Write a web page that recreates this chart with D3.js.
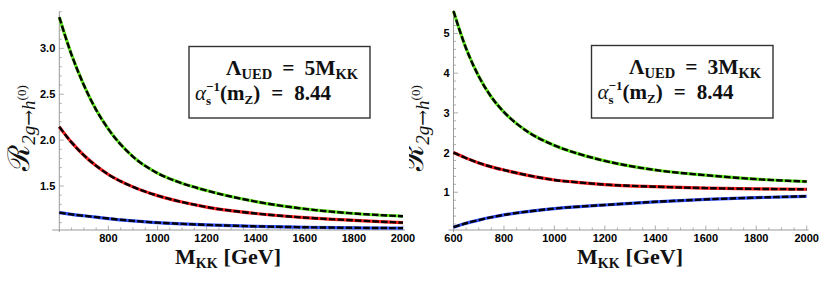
<!DOCTYPE html>
<html>
<head>
<meta charset="utf-8">
<script src="https://cdn.jsdelivr.net/npm/d3@7"></script>
<style>
  body { margin: 0; background: #fff; }
  svg { display: block; }
</style>
</head>
<body>
<div id="chart"></div>
<script>
// M_KK values (GeV) where the curves were read
var mkk = [600, 650, 700, 750, 800, 900, 1000, 1100, 1200, 1400, 1600, 1800, 2000];

// Lambda_UED = 5 M_KK
var green5 = [3.34, 2.93, 2.60, 2.33, 2.12, 1.82, 1.64, 1.53, 1.45, 1.33, 1.25, 1.20, 1.17];
var red5 = [2.145, 1.975, 1.835, 1.72, 1.625, 1.49, 1.395, 1.325, 1.27, 1.20, 1.155, 1.125, 1.10];
var blue5 = [1.21, 1.19, 1.175, 1.16, 1.145, 1.12, 1.10, 1.087, 1.076, 1.06, 1.05, 1.044, 1.04];

// Lambda_UED = 3 M_KK
var green3 = [5.56, 4.62, 3.92, 3.40, 3.02, 2.50, 2.18, 1.96, 1.79, 1.56, 1.43, 1.33, 1.27];
var red3 = [2.0, 1.86, 1.74, 1.64, 1.56, 1.42, 1.31, 1.245, 1.195, 1.14, 1.105, 1.085, 1.075];
var blue3 = [0.12, 0.22, 0.30, 0.37, 0.43, 0.52, 0.59, 0.64, 0.68, 0.76, 0.82, 0.865, 0.90];

var xTicks5 = [800, 1000, 1200, 1400, 1600, 1800, 2000];
var yTicks5 = [1.5, 2.0, 2.5, 3.0];
var xTicks3 = [600, 800, 1000, 1200, 1400, 1600, 1800, 2000];
var yTicks3 = [1, 2, 3, 4, 5];

var colors = { green: "#5ee61e", red: "#ff1f1f", blue: "#3050ff" };

var svg = d3.select("#chart").append("svg").attr("width", 830).attr("height", 282);

svg.append("defs").append("clipPath").attr("id", "clipR")
  .append("rect").attr("x", 409).attr("y", 0).attr("width", 60).attr("height", 282);

function range(a, b, step) {
  var out = [];
  for (var v = a; v <= b + 1e-9; v += step) out.push(+v.toFixed(4));
  return out;
}

function drawPanel(cfg) {
  var x = d3.scaleLinear().domain([600, 2000]).range(cfg.xr);
  var y = d3.scaleLinear().domain(cfg.yd).range([230, cfg.ytop]);
  var g = svg.append("g");

  // axes lines (Mathematica style, gray)
  g.append("line")
    .attr("x1", cfg.xr[0] - cfg.xlead).attr("x2", cfg.xr[1] + 2)
    .attr("y1", y(cfg.yd[0])).attr("y2", y(cfg.yd[0]))
    .attr("stroke", "#9a9a9a").attr("stroke-width", 1);
  g.append("line")
    .attr("x1", x(600)).attr("x2", x(600))
    .attr("y1", y(cfg.yd[0]) + 2).attr("y2", y(cfg.yd[1]))
    .attr("stroke", "#9a9a9a").attr("stroke-width", 1);

  // x ticks (pointing into the plot)
  var xMinor = range(650, 2000, 50);
  g.selectAll(".xt").data(xMinor).enter().append("line")
    .attr("x1", function (d) { return x(d); })
    .attr("x2", function (d) { return x(d); })
    .attr("y1", y(cfg.yd[0]))
    .attr("y2", function (d) { return y(cfg.yd[0]) - (d % 200 === 0 ? 4.5 : 2.5); })
    .attr("stroke", "#9a9a9a").attr("stroke-width", 0.8);
  g.selectAll(".xl").data(cfg.xTicks).enter().append("text")
    .attr("x", function (d) { return x(d); })
    .attr("y", 242)
    .attr("text-anchor", "middle")
    .style("font-family", "Liberation Sans, Arial, sans-serif")
    .style("font-weight", "bold")
    .style("font-size", "11px")
    .attr("fill", "#000")
    .text(function (d) { return d; });

  // y ticks
  var yMinor = range(cfg.yMinor[0], cfg.yd[1], cfg.yMinor[1]);
  g.selectAll(".yt").data(yMinor).enter().append("line")
    .attr("x1", x(600))
    .attr("x2", function (d) {
      var major = cfg.yTicks.some(function (t) { return Math.abs(t - d) < 1e-6; });
      return x(600) + (major ? 4.5 : 2.5);
    })
    .attr("y1", function (d) { return y(d); })
    .attr("y2", function (d) { return y(d); })
    .attr("stroke", "#9a9a9a").attr("stroke-width", 0.8);
  g.selectAll(".yl").data(cfg.yTicks).enter().append("text")
    .attr("x", x(600) - 4)
    .attr("y", function (d) { return y(d) + 4; })
    .attr("text-anchor", "end")
    .style("font-family", "Liberation Sans, Arial, sans-serif")
    .style("font-weight", "bold")
    .style("font-size", "11px")
    .attr("fill", "#000")
    .text(function (d) { return cfg.yFmt(d); });

  // curves: colored solid line under a black dashed line
  var line = d3.line()
    .x(function (d) { return x(d[0]); })
    .y(function (d) { return y(d[1]); })
    .curve(d3.curveMonotoneX);

  cfg.series.forEach(function (s) {
    var pts = mkk.map(function (m, i) { return [m, s.values[i]]; });
    g.append("path").datum(pts)
      .attr("fill", "none").attr("stroke", s.color).attr("stroke-width", 3.2)
      .attr("d", line);
    g.append("path").datum(pts)
      .attr("fill", "none").attr("stroke", "#000").attr("stroke-width", 2.4)
      .attr("stroke-dasharray", "6.5,2.2")
      .attr("d", line);
  });

  // legend box
  var b = cfg.box;
  g.append("rect")
    .attr("x", b[0]).attr("y", b[1]).attr("width", b[2]).attr("height", b[3])
    .attr("fill", "#fff").attr("stroke", "#333").attr("stroke-width", 1.4);

  var t1 = g.append("text")
    .attr("x", b[0] + b[2] - 12).attr("y", b[1] + 28)
    .attr("text-anchor", "end")
    .style("font-family", "Liberation Serif, Times New Roman, serif")
    .style("font-weight", "bold")
    .style("font-size", "21.5px")
    .attr("fill", "#111");
  t1.append("tspan").text("Λ");
  t1.append("tspan").attr("dy", 4).style("font-size", "14.5px").text("UED");
  t1.append("tspan").attr("dy", -4).attr("dx", 10).text("=");
  t1.append("tspan").attr("dx", 10).text(cfg.lambda + "M");
  t1.append("tspan").attr("dy", 4).style("font-size", "14.5px").text("KK");

  var t2 = g.append("text")
    .attr("x", b[0] + 6).attr("y", b[1] + 53)
    .style("font-family", "Liberation Serif, Times New Roman, serif")
    .style("font-weight", "bold")
    .style("font-size", "21px")
    .attr("fill", "#111");
  t2.append("tspan").style("font-style", "italic").style("font-weight", "normal").text("α");
  t2.append("tspan").attr("dy", 5).style("font-size", "13px").text("s");
  t2.append("tspan").attr("dy", -14).attr("dx", -5).style("font-size", "13px").text("−1");
  t2.append("tspan").attr("dy", 9).text("(m");
  t2.append("tspan").attr("dy", 4).style("font-size", "13px").text("Z");
  t2.append("tspan").attr("dy", -4).text(")");
  t2.append("tspan").attr("dx", 11).text("=");
  t2.append("tspan").attr("dx", 11).text("8.44");

  // x axis label
  var xl = g.append("text")
    .attr("x", cfg.xLabelX).attr("y", 264)
    .attr("text-anchor", "middle")
    .style("font-family", "Liberation Serif, Times New Roman, serif")
    .style("font-weight", "bold")
    .style("font-size", "22px")
    .attr("fill", "#111");
  xl.append("tspan").text("M");
  xl.append("tspan").attr("dy", 4).style("font-size", "14px").text("KK");
  xl.append("tspan").attr("dy", -4).attr("dx", 6).text("[GeV]");

  // y axis label (rotated)
  var yl = g.append("text")
    .attr("transform", "translate(" + cfg.yLabelX + ",128) rotate(-90)")
    .attr("text-anchor", "middle")
    .style("font-family", "DejaVu Serif, Liberation Serif, serif")
    .style("font-size", "30px")
    .attr("fill", "#111");
  yl.append("tspan").text("ℛ");
  yl.append("tspan").attr("dy", 6).style("font-size", "19px").style("font-style", "italic")
    .style("font-family", "Liberation Serif, serif").text("2g");
  yl.append("tspan").style("font-size", "19px").text("→");
  yl.append("tspan").style("font-size", "19px").style("font-style", "italic")
    .style("font-family", "Liberation Serif, serif").text("h");
  yl.append("tspan").attr("dy", -9).style("font-size", "13px")
    .style("font-family", "Liberation Serif, serif").text("(0)");
  if (cfg.clip) {
    var wrap = svg.append("g").attr("clip-path", "url(#clipR)");
    wrap.node().appendChild(yl.node());
  }
}

drawPanel({
  xr: [59.3, 403], yd: [1.02, 3.40], ytop: 11.7, xlead: 7,
  xTicks: xTicks5, yTicks: yTicks5, yMinor: [1.1, 0.1],
  yFmt: d3.format(".1f"),
  series: [
    { values: green5, color: colors.green },
    { values: red5, color: colors.red },
    { values: blue5, color: colors.blue }
  ],
  box: [189, 46.5, 181, 71.5], lambda: 5,
  xLabelX: 228, yLabelX: 29, clip: false
});

drawPanel({
  xr: [453.5, 806.7], yd: [0.05, 5.59], ytop: 10, xlead: 5,
  xTicks: xTicks3, yTicks: yTicks3, yMinor: [0.2, 0.2],
  yFmt: d3.format("d"),
  series: [
    { values: green3, color: colors.green },
    { values: red3, color: colors.red },
    { values: blue3, color: colors.blue }
  ],
  box: [591.5, 45.5, 181.5, 72.5], lambda: 3,
  xLabelX: 630, yLabelX: 423, clip: true
});
</script>
</body>
</html>
